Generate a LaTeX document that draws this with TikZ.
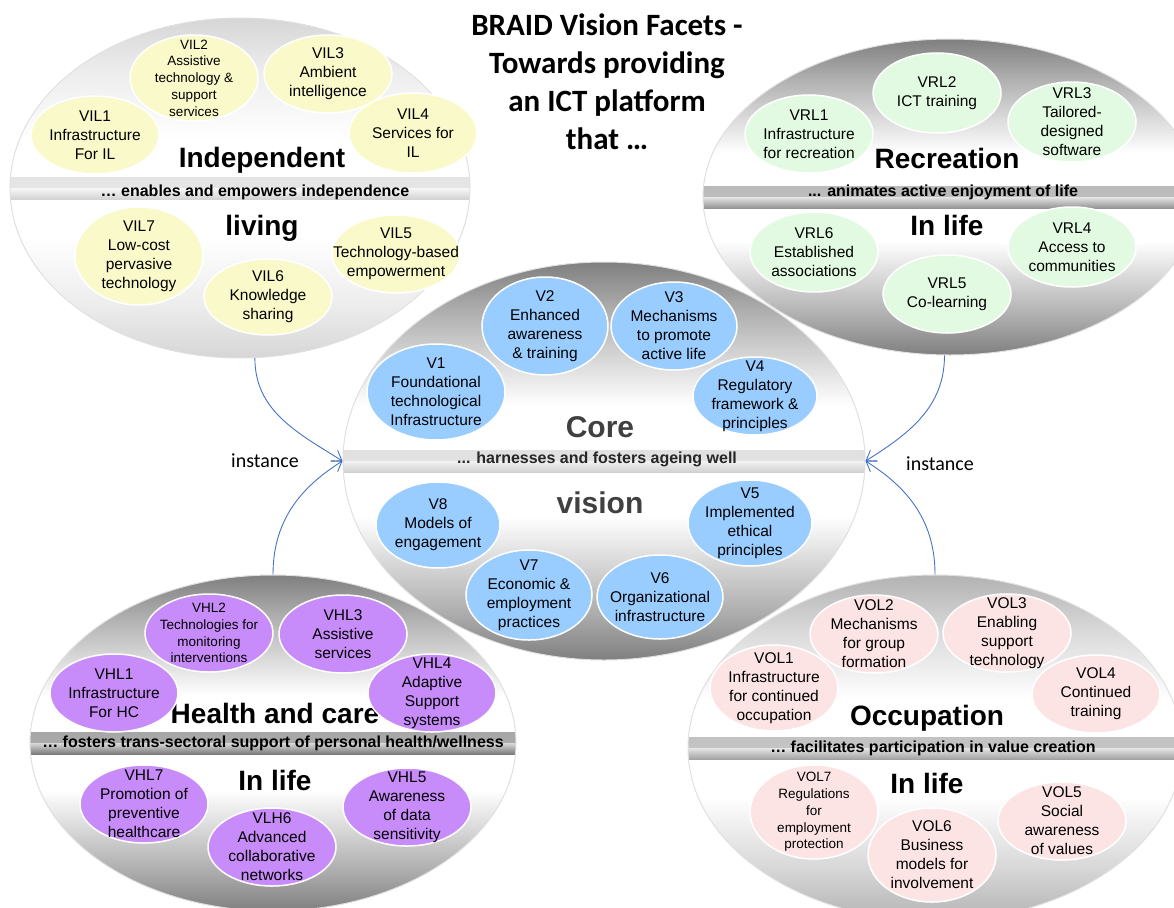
\documentclass[tikz,border=0pt]{standalone}
\usepackage{fontspec}
\setmainfont{Liberation Sans}
\newfontfamily\calibfont{Carlito}
\usetikzlibrary{shapes.geometric}
\usetikzlibrary{arrows.meta}

\definecolor{ilyellow}{RGB}{250,249,202}
\definecolor{rlgreen}{RGB}{226,250,226}
\definecolor{vblue}{RGB}{153,204,255}
\definecolor{hlpurple}{RGB}{200,140,250}
\definecolor{olpink}{RGB}{252,228,228}
\definecolor{instblue}{RGB}{68,114,196}

% grey discs, dark at the rim and white inside
\pgfdeclareverticalshading{darkdisc}{100bp}{color(0bp)=(black!50); color(25bp)=(black!50);
  color(31bp)=(black!32); color(43bp)=(white); color(57bp)=(white);
  color(69bp)=(black!32); color(75bp)=(black!50); color(100bp)=(black!50)}
\pgfdeclareverticalshading{middisc}{100bp}{color(0bp)=(black!30); color(25bp)=(black!30);
  color(33bp)=(black!15); color(43bp)=(white); color(57bp)=(white);
  color(67bp)=(black!15); color(75bp)=(black!30); color(100bp)=(black!30)}
\pgfdeclareverticalshading{lightdisc}{100bp}{color(0bp)=(black!16); color(25bp)=(black!16);
  color(33bp)=(black!7); color(43bp)=(white); color(57bp)=(white);
  color(67bp)=(black!7); color(75bp)=(black!16); color(100bp)=(black!16)}

\tikzset{
  disc/.style n args={3}{ellipse, draw=black!12, line width=1pt, inner sep=0pt, shading=#1,
    path picture={
      \shade[top color=#2, bottom color=#3] ([yshift=11pt]path picture bounding box.west) rectangle (path picture bounding box.east);
      \shade[top color=#3, bottom color=#2] (path picture bounding box.west) rectangle ([yshift=-11pt]path picture bounding box.east);}},
  bub/.style={ellipse, fill=#1, draw=white, line width=1.5pt, inner xsep=-45pt, inner ysep=-40pt,
    minimum width=128pt, minimum height=78pt, align=center, font=\fontsize{15.5}{19}\selectfont},
  smallbub/.style={bub=#1, font=\fontsize{13.5}{16.7}\selectfont},
  bigword/.style={font=\bfseries\fontsize{28}{30}\selectfont},
  tagline/.style={font=\bfseries\fontsize{16}{18}\selectfont},
  inst/.style={-{Straight Barb[length=9pt,width=13pt]}, draw=instblue, line width=0.9pt},
  instlabel/.style={font=\calibfont\fontsize{20}{24}\selectfont}
}

\begin{document}
\begin{tikzpicture}[x=1pt,y=-1pt]
\useasboundingbox (0,0) rectangle (1174,907);

% the big discs
\node[disc={lightdisc}{black!17}{black!3}, minimum width=460pt, minimum height=340pt] (il) at (240,188) {};
\node[disc={darkdisc}{black!42}{black!10}, minimum width=494pt, minimum height=316pt] (rec) at (950,197) {};
\node[disc={darkdisc}{black!52}{black!15}, minimum width=486pt, minimum height=336pt] (hc) at (273,743) {};
\node[disc={middisc}{black!36}{black!10}, minimum width=494pt, minimum height=346pt] (occ) at (935,748) {};
\node[disc={darkdisc}{black!18}{black!5}, minimum width=522pt, minimum height=398pt] (core) at (604,461) {};

% title
\node[align=center, font=\calibfont\bfseries\fontsize{31}{38}\selectfont] (title) at (607,82)
  {BRAID Vision Facets -\\Towards providing\\an ICT platform\\that \ldots};

% instance arrows
\draw[inst] (il.-85) to[out=-90, in=148] (core.west);
\draw[inst] (hc.north) to[out=90, in=212] (core.west);
\node[instlabel] (instl) at (265,461) {instance};
\draw[inst] (rec.-92) to[out=-90, in=32] (core.east);
\draw[inst] (occ.north) to[out=90, in=-32] (core.east);
\node[instlabel] (instr) at (940,464) {instance};

% independent living
\node[bigword] (iltop) at (262,160) {Independent};
\node[bigword] (ilbot) at (262,228) {living};
\node[tagline] (iltag) at (255,192) {… enables and empowers independence};
\node[bub=ilyellow] (vil1) at (95,135) {VIL1\\Infrastructure\\For IL};
\node[smallbub=ilyellow, minimum height=86pt] (vil2) at (194,78) {VIL2\\Assistive\\technology \&\\support\\services};
\node[bub=ilyellow] (vil3) at (328,74) {VIL3\\Ambient\\intelligence};
\node[bub=ilyellow, minimum height=80pt] (vil4) at (413,133) {VIL4\\Services for\\IL};
\node[bub=ilyellow] (vil5) at (396,254) {VIL5\\Technology-based\\empowerment};
\node[bub=ilyellow, minimum height=76pt] (vil6) at (268,297) {VIL6\\Knowledge\\sharing};
\node[bub=ilyellow, minimum height=98pt] (vil7) at (139,256) {VIL7\\Low-cost\\pervasive\\technology};

% recreation
\node[bigword] (rectop) at (947,158) {Recreation};
\node[bigword] (recbot) at (947,225) {In life};
\node[tagline] (rectag) at (943,192) {... animates active enjoyment of life};
\node[bub=rlgreen] (vrl1) at (809,134) {VRL1\\Infrastructure\\for recreation};
\node[bub=rlgreen, minimum height=80pt] (vrl2) at (937,93) {VRL2\\ICT training};
\node[bub=rlgreen, minimum height=80pt] (vrl3) at (1072,122) {VRL3\\Tailored-\\designed\\software};
\node[bub=rlgreen, minimum height=80pt] (vrl4) at (1072,247) {VRL4\\Access to\\communities};
\node[bub=rlgreen] (vrl5) at (947,294) {VRL5\\Co-learning};
\node[bub=rlgreen, minimum height=80pt] (vrl6) at (814,252) {VRL6\\Established\\associations};

% core vision
\node[bigword, text=black!75, font=\bfseries\fontsize{30}{32}\selectfont] (coretop) at (600,427) {Core};
\node[bigword, text=black!75, font=\bfseries\fontsize{30}{32}\selectfont] (corebot) at (600,503) {vision};
\node[tagline, text=black!85] (coretag) at (597,459) {... harnesses and fosters ageing well};
\node[bub=vblue, minimum width=138pt, minimum height=96pt] (v1) at (436,392) {V1\\Foundational\\technological\\Infrastructure};
\node[bub=vblue, minimum width=126pt, minimum height=98pt] (v2) at (545,326) {V2\\Enhanced\\awareness\\\& training};
\node[bub=vblue, minimum width=126pt, minimum height=88pt] (v3) at (674,326) {V3\\Mechanisms\\to promote\\active life};
\node[bub=vblue, minimum width=124pt] (v4) at (755,396) {V4\\Regulatory\\framework \&\\principles};
\node[bub=vblue, minimum width=124pt, minimum height=86pt] (v5) at (750,523) {V5\\Implemented\\ethical\\principles};
\node[bub=vblue, minimum width=126pt, minimum height=84pt] (v6) at (660,597) {V6\\Organizational\\infrastructure};
\node[bub=vblue, minimum width=126pt, minimum height=90pt] (v7) at (529,595) {V7\\Economic \&\\employment\\practices};
\node[bub=vblue, minimum width=124pt, minimum height=86pt] (v8) at (438,525) {V8\\Models of\\engagement};

% health and care
\node[bigword] (hctop) at (275,713) {Health and care};
\node[bigword] (hcbot) at (275,780) {In life};
\node[tagline] (hctag) at (273,743) {… fosters trans-sectoral support of personal health/wellness};
\node[bub=hlpurple] (vhl1) at (114,693) {VHL1\\Infrastructure\\For HC};
\node[smallbub=hlpurple] (vhl2) at (209,633) {VHL2\\Technologies for\\monitoring\\interventions};
\node[bub=hlpurple] (vhl3) at (343,634) {VHL3\\Assistive\\services};
\node[bub=hlpurple] (vhl4) at (432,693) {VHL4\\Adaptive\\Support\\systems};
\node[bub=hlpurple] (vhl5) at (407,807) {VHL5\\Awareness\\of data\\sensitivity};
\node[bub=hlpurple] (vlh6) at (272,847) {VLH6\\Advanced\\collaborative\\networks};
\node[bub=hlpurple] (vhl7) at (144,804) {VHL7\\Promotion of\\preventive\\healthcare};

% occupation
\node[bigword] (occtop) at (927,718) {Occupation};
\node[bigword] (occbot) at (927,783) {In life};
\node[tagline] (occtag) at (933,748) {… facilitates participation in value creation};
\node[bub=olpink, minimum height=86pt] (vol1) at (774,688) {VOL1\\Infrastructure\\for continued\\occupation};
\node[bub=olpink] (vol2) at (874,634) {VOL2\\Mechanisms\\for group\\formation};
\node[bub=olpink] (vol3) at (1007,633) {VOL3\\Enabling\\support\\technology};
\node[bub=olpink] (vol4) at (1096,694) {VOL4\\Continued\\training};
\node[bub=olpink] (vol5) at (1062,821) {VOL5\\Social\\awareness\\of values};
\node[bub=olpink, minimum height=94pt] (vol6) at (932,855) {VOL6\\Business\\models for\\involvement};
\node[smallbub=olpink, minimum height=94pt] (vol7) at (814,812) {VOL7\\Regulations\\for\\employment\\protection};

\end{tikzpicture}
\end{document}
